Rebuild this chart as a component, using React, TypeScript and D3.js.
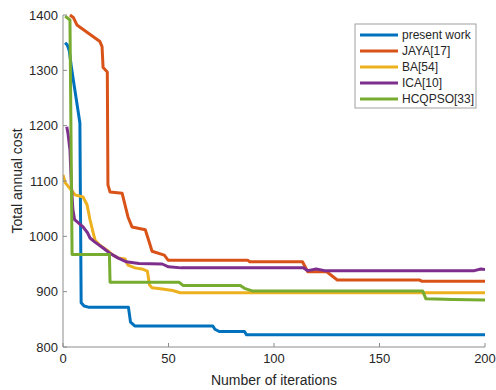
import React from "react";
import * as d3 from "d3";

// convergence curves: [iteration, total annual cost]
const presentWork: [number, number][] = [
  [1, 1350], [2, 1346], [3, 1335], [4, 1305], [5, 1280], [6, 1255], [7, 1230], [8, 1205],
  [8.6, 880], [10, 874], [12, 872], [31, 872], [32, 845], [34, 838], [71, 838], [72, 832],
  [74, 828], [86, 828], [87, 822], [200, 822],
];
const jaya: [number, number][] = [
  [3.3, 1400], [5, 1395], [6.6, 1382], [17.5, 1352], [18.5, 1343], [19, 1305], [21, 1297],
  [21.3, 1093], [22.3, 1080], [28, 1078], [30.8, 1035], [32.7, 1017], [39, 1012],
  [41, 988], [42.2, 973], [48, 966], [49.8, 957], [87.5, 957], [88.5, 954], [113.5, 954],
  [116, 936], [125, 936], [130, 921], [169, 921], [170, 919], [200, 919],
];
const ba: [number, number][] = [
  [0, 1111], [1, 1097], [4.3, 1082], [5.7, 1075], [9.5, 1071], [11.4, 1057], [12.8, 1030],
  [14.2, 1008], [15.2, 993], [17.5, 984], [20.9, 975], [23.7, 966], [26, 961], [29.4, 959],
  [30.8, 948], [34.1, 943], [37.4, 941], [40, 937], [41, 912], [42.2, 907], [47, 905],
  [52, 902], [55.5, 898], [200, 898],
];
const ica: [number, number][] = [
  [1.8, 1198], [2.4, 1185], [3.3, 1156], [4, 1090], [4.7, 1048], [5.5, 1030], [9.5, 1017],
  [11.7, 1006], [12.8, 997], [15, 990], [19, 979], [22, 970], [26, 961], [30, 954],
  [36, 951], [47, 950], [50, 945], [56, 943], [114, 943], [116, 938], [120, 941],
  [124, 938], [195, 938], [198, 941], [200, 940],
];
const hcqpso: [number, number][] = [
  [1, 1398], [3.3, 1391], [4.3, 967], [22, 967], [22.3, 917], [55, 917], [57, 911],
  [84, 911], [86, 906], [90, 901], [170.5, 901], [172, 887], [185, 886], [200, 885],
];

const seriesNames = ["present work", "JAYA[17]", "BA[54]", "ICA[10]", "HCQPSO[33]"];
const seriesData = [presentWork, jaya, ba, ica, hcqpso];
const seriesColors = ["#0072BD", "#D95319", "#EDB120", "#7E2F8E", "#77AC30"];

const xTicks = [0, 50, 100, 150, 200];
const yTicks = [800, 900, 1000, 1100, 1200, 1300, 1400];

const W = 496;
const H = 390;
const left = 63, right = 485, top = 15, bottom = 347;
const font = "'Liberation Sans', Arial, Helvetica, sans-serif";
const textColor = "#262626";
const axisColor = "#8c8c8c";

export default function App() {
  const x = d3.scaleLinear().domain([0, 200]).range([left, right]);
  const y = d3.scaleLinear().domain([800, 1400]).range([bottom, top]);
  const line = d3
    .line<[number, number]>()
    .x((d) => x(d[0]))
    .y((d) => y(d[1]));

  const legX = 355, legY = 24, legW = 121, legH = 84;

  return (
    <svg
      width={W}
      height={H}
      style={{ position: "absolute", left: 0, top: 0, background: "#fff" }}
      fontFamily={font}
    >
      <defs>
        <clipPath id="plotClip">
          <rect x={left} y={top - 2} width={right - left} height={bottom - top + 2} />
        </clipPath>
      </defs>

      {/* curves */}
      <g clipPath="url(#plotClip)">
        {seriesData.map((d, i) => (
          <path
            key={seriesNames[i]}
            d={line(d) || ""}
            fill="none"
            stroke={seriesColors[i]}
            strokeWidth={3}
            strokeLinejoin="round"
          />
        ))}
      </g>

      {/* axes */}
      <line x1={left} x2={left} y1={top} y2={bottom} stroke={axisColor} strokeWidth={1} />
      <line x1={left} x2={right} y1={bottom} y2={bottom} stroke={axisColor} strokeWidth={1} />
      {yTicks.map((t) => (
        <g key={"y" + t}>
          <line x1={left} x2={left + 4} y1={y(t)} y2={y(t)} stroke={axisColor} />
          <text
            x={left - 5}
            y={y(t)}
            dy="0.35em"
            textAnchor="end"
            fontSize={13}
            fill={textColor}
          >
            {t}
          </text>
        </g>
      ))}
      {xTicks.map((t) => (
        <g key={"x" + t}>
          <line x1={x(t)} x2={x(t)} y1={bottom} y2={bottom - 4} stroke={axisColor} />
          <text
            x={x(t)}
            y={bottom + 16}
            textAnchor="middle"
            fontSize={13}
            fill={textColor}
          >
            {t}
          </text>
        </g>
      ))}

      <text
        x={(left + right) / 2}
        y={385}
        textAnchor="middle"
        fontSize={14}
        fill={textColor}
      >
        Number of iterations
      </text>
      <text
        transform={`translate(22,${(top + bottom) / 2}) rotate(-90)`}
        textAnchor="middle"
        fontSize={14}
        fill={textColor}
      >
        Total annual cost
      </text>

      {/* legend */}
      <rect x={legX} y={legY} width={legW} height={legH} fill="#fff" stroke="#a0a0a0" strokeWidth={1} />
      {seriesNames.map((name, i) => {
        const ly = legY + 11 + i * 16;
        return (
          <g key={"leg" + name}>
            <line x1={legX + 5} x2={legX + 43} y1={ly} y2={ly} stroke={seriesColors[i]} strokeWidth={3} />
            <text x={legX + 47} y={ly} dy="0.35em" fontSize={12} fill={textColor}>
              {name}
            </text>
          </g>
        );
      })}
    </svg>
  );
}
